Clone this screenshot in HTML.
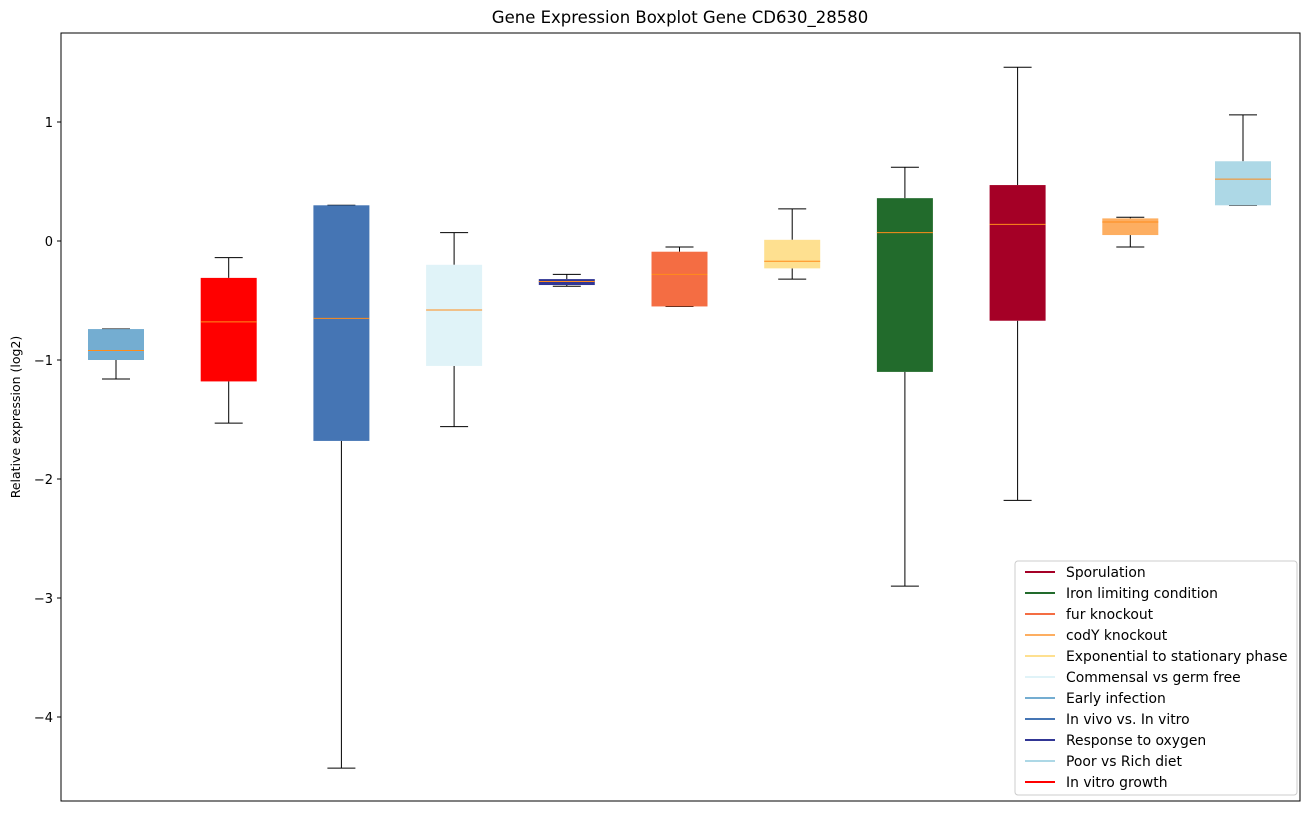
<!DOCTYPE html>
<html><head><meta charset="utf-8"><style>
body{margin:0;background:#fff;font-family:"DejaVu Sans","Liberation Sans",sans-serif;}
svg text{font-family:"DejaVu Sans","Liberation Sans",sans-serif;}
</style></head><body>
<svg id="chart" width="1309" height="812" xmlns="http://www.w3.org/2000/svg">
<rect width="1309" height="812" fill="#fff"/>
<text x="680" y="23" font-size="16.5" text-anchor="middle" fill="#000">Gene Expression Boxplot Gene CD630_28580</text>
<text transform="translate(20,417) rotate(-90)" font-size="12.5" text-anchor="middle">Relative expression (log2)</text>
<g id="plot"></g>
<rect x="61" y="33" width="1239" height="768" fill="none" stroke="#000" stroke-width="1"/>
<g id="legend"></g>
</svg>
<script>
const colors=["#74add1","#ff0000","#4575b4","#e0f3f8","#313695","#f46d43","#fee090","#226b2c","#a50026","#fdae61","#add8e6"];
const whiskerLow=[-1.16,-1.53,-4.43,-1.56,-0.38,-0.55,-0.32,-2.90,-2.18,-0.05,0.30];
const q1=[-1.0,-1.18,-1.68,-1.05,-0.37,-0.55,-0.23,-1.10,-0.67,0.05,0.30];
const medians=[-0.92,-0.68,-0.65,-0.58,-0.34,-0.28,-0.17,0.07,0.14,0.16,0.52];
const q3=[-0.74,-0.31,0.30,-0.20,-0.32,-0.09,0.01,0.36,0.47,0.19,0.67];
const whiskerHigh=[-0.74,-0.14,0.30,0.07,-0.28,-0.05,0.27,0.62,1.46,0.20,1.06];
const yTicks=[1,0,-1,-2,-3,-4];
const legendLabels=["Sporulation","Iron limiting condition","fur knockout","codY knockout","Exponential to stationary phase","Commensal vs germ free","Early infection","In vivo vs. In vitro","Response to oxygen","Poor vs Rich diet","In vitro growth"];
const legendColors=["#a50026","#226b2c","#f46d43","#fdae61","#fee090","#e0f3f8","#74add1","#4575b4","#313695","#add8e6","#ff0000"];
const NS="http://www.w3.org/2000/svg";
const y=v=>241-v*119;
const x=i=>116+i*112.7;
function mk(tag,attrs,parent){const e=document.createElementNS(NS,tag);for(const k in attrs)e.setAttribute(k,attrs[k]);parent.appendChild(e);return e;}
const svg=document.getElementById('chart');
const plot=document.getElementById('plot');
yTicks.forEach(t=>{
 const g=mk('g',{},svg);
 
 
 mk('line',{x1:57,x2:61,y1:y(t),y2:y(t),stroke:'#000'},g);
 const tx=mk('text',{x:53,y:y(t)+5,'font-size':13,'text-anchor':'end'},g);
 tx.textContent=t<0?'\u2212'+(-t):String(t);
});
colors.forEach((c,i)=>{
 const g=mk('g',{},plot);
 
 
 const cx=x(i),hw=28,cw=14;
 mk('line',{x1:cx,x2:cx,y1:y(whiskerLow[i]),y2:y(q1[i]),stroke:'#000'},g);
 mk('line',{x1:cx,x2:cx,y1:y(q3[i]),y2:y(whiskerHigh[i]),stroke:'#000'},g);
 mk('line',{x1:cx-cw,x2:cx+cw,y1:y(whiskerLow[i]),y2:y(whiskerLow[i]),stroke:'#000'},g);
 mk('line',{x1:cx-cw,x2:cx+cw,y1:y(whiskerHigh[i]),y2:y(whiskerHigh[i]),stroke:'#000'},g);
 const top=y(q3[i]),bot=y(q1[i]);
 mk('rect',{x:cx-hw,y:top,width:hw*2,height:Math.max(bot-top,1),fill:c},g);
 mk('line',{x1:cx-hw,x2:cx+hw,y1:y(medians[i]),y2:y(medians[i]),stroke:'#ff8c1a','stroke-width':1},g);
});
const lg=document.getElementById('legend');


mk('rect',{x:1015,y:561,width:282,height:234,rx:3,fill:'#fff',stroke:'#ccc'},lg);
legendLabels.forEach((l,i)=>{
 const g=mk('g',{},lg);
 
 
 const yy=572+i*21;
 mk('line',{x1:1025,x2:1055,y1:yy,y2:yy,stroke:legendColors[i],'stroke-width':2},g);
 const t=mk('text',{x:1066,y:yy+5,'font-size':13.9},g);
 t.textContent=l;
});
</script>
</body></html>
